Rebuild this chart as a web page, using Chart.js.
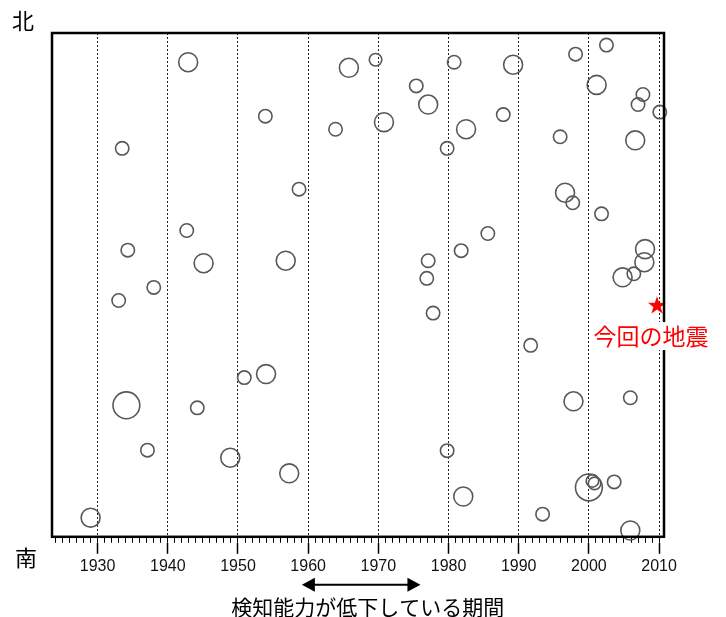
<!DOCTYPE html>
<html>
<head>
<meta charset="utf-8">
<script src="https://cdn.jsdelivr.net/npm/chart.js@4/dist/chart.umd.min.js"></script>
<style>
html,body{margin:0;padding:0;background:#fff;}
#wrap{width:726px;height:617px;}
</style>
</head>
<body>
<div id="wrap"><canvas id="c" width="726" height="617"></canvas></div>
<script>
// ---- data ----
const years = [1942.9,1933.5,1953.9,1958.7,1965.8,1969.6,1963.9,1970.8,1975.4,1977.1,
               1980.8,1982.5,1979.8,1989.2,1987.8,1998.1,2002.5,2001.1,2007.0,2007.7,
               2010.1,1995.9,2006.6,1996.6,1997.7,2001.8,1985.6,1981.8,1977.1,1976.9,
               1977.8,1942.7,1934.3,1945.1,1956.8,1938.0,1933.0,2008.0,2007.9,2006.4,
               2004.8,1991.7,1954.0,1950.9,1934.1,1944.2,1997.8,2005.9,1937.1,1948.9,
               1957.3,1979.8,2000.0,2000.5,2000.8,2003.6,1982.1,1993.4,2005.9,1929.0];
// relative north-south position (100 = north edge, 0 = south edge)
const positions = [94.2,77.1,83.5,69.0,93.1,94.7,80.9,82.3,89.5,85.8,
                   94.2,80.9,77.1,93.7,83.8,95.8,97.6,89.7,85.8,87.8,
                   84.3,79.4,78.7,68.3,66.3,64.1,60.2,56.8,54.8,51.3,
                   44.4,60.8,56.9,54.3,54.8,49.5,46.9,57.1,54.5,52.2,
                   51.5,38.0,32.3,31.6,26.1,25.6,26.9,27.6,17.2,15.7,
                   12.6,17.1,9.8,11.1,10.6,10.9,8.0,4.5,1.25,3.8];
const magnitudes = [6.5,6.0,6.0,6.0,6.5,5.9,6.0,6.5,6.0,6.5,
                    6.0,6.5,6.0,6.5,6.0,6.0,6.0,6.5,6.0,6.0,
                    6.0,6.0,6.5,6.5,6.0,6.0,6.0,6.0,6.0,6.0,
                    6.0,6.0,6.0,6.5,6.5,6.0,6.0,6.5,6.5,6.0,
                    6.5,6.0,6.5,6.0,7.0,6.0,6.5,6.0,6.0,6.5,
                    6.5,6.0,7.0,5.9,5.9,6.0,6.5,6.0,6.5,6.5];
const quakeYear = [2009.7];
const quakePos = [46.0];
const quakeLabel = '今回の地震';
const northLabel = '北';
const southLabel = '南';
const periodFrom = 1959.1;
const periodTo = 1976.0;
const periodLabel = '検知能力が低下している期間';
const decadeTicks = [1930, 1940, 1950, 1960, 1970, 1980, 1990, 2000, 2010];
const firstYearTick = 1924, lastYearTick = 2010;
const xMin = 1923.5, xMax = 2010.7;

function magToRadius(m){ return 6.7 * Math.pow(2, m - 6); }

const bubbles = years.map((y, i) => ({x: y, y: positions[i], r: magToRadius(magnitudes[i])}));
const star = quakeYear.map((y, i) => ({x: y, y: quakePos[i]}));

// star marker
const starImg = document.createElement('canvas');
starImg.width = 20; starImg.height = 20;
(function(){
  const g = starImg.getContext('2d');
  g.fillStyle = '#ff0000';
  g.beginPath();
  for (let k = 0; k < 10; k++) {
    const rr = k % 2 === 0 ? 9.5 : 3.8;
    const a = -Math.PI/2 + k * Math.PI/5;
    const px = 10 + rr*Math.cos(a), py = 10.8 + rr*Math.sin(a);
    if (k === 0) g.moveTo(px, py); else g.lineTo(px, py);
  }
  g.closePath(); g.fill();
})();

const annot = {
  id: 'annot',
  afterDraw(chart) {
    const {ctx, chartArea: a, scales} = chart;
    const xs = scales.x, ys = scales.y;
    ctx.save();
    // frame
    ctx.lineWidth = 2.5; ctx.strokeStyle = '#000';
    ctx.strokeRect(a.left, a.top, a.right - a.left, a.bottom - a.top);
    // N / S
    ctx.fillStyle = '#000';
    ctx.font = '22px "Noto Sans CJK JP"';
    ctx.textAlign = 'center'; ctx.textBaseline = 'middle';
    ctx.fillText(northLabel, 23, a.top - 12);
    ctx.fillText(southLabel, 26, a.bottom + 21);
    // arrow
    const x1 = xs.getPixelForValue(periodFrom), x2 = xs.getPixelForValue(periodTo);
    const ay = a.bottom + 48;
    const hl = 13, hh = 7;
    ctx.lineWidth = 2;
    ctx.beginPath(); ctx.moveTo(x1 + hl - 2, ay); ctx.lineTo(x2 - hl + 2, ay); ctx.stroke();
    ctx.beginPath(); ctx.moveTo(x1, ay); ctx.lineTo(x1 + hl, ay - hh); ctx.lineTo(x1 + hl, ay + hh); ctx.closePath(); ctx.fill();
    ctx.beginPath(); ctx.moveTo(x2, ay); ctx.lineTo(x2 - hl, ay - hh); ctx.lineTo(x2 - hl, ay + hh); ctx.closePath(); ctx.fill();
    ctx.font = '21px "Noto Sans CJK JP"';
    ctx.fillText(periodLabel, xs.getPixelForValue(1968.5), a.bottom + 70);
    // quake label
    const sx = xs.getPixelForValue(quakeYear[0]), sy = ys.getPixelForValue(quakePos[0]);
    ctx.font = '23px "Noto Sans CJK JP"';
    const w = ctx.measureText(quakeLabel).width;
    const lx = sx - 6, ly = sy + 31;
    ctx.fillStyle = '#fff';
    ctx.fillRect(lx - w/2 - 2, ly - 14, w + 4, 28);
    ctx.fillStyle = '#ff0000';
    ctx.fillText(quakeLabel, lx, ly);
    ctx.restore();
  }
};

new Chart(document.getElementById('c'), {
  type: 'bubble',
  data: {
    datasets: [
      {
        type: 'bubble',
        data: bubbles,
        xAxisID: 'x', yAxisID: 'y',
        backgroundColor: 'rgba(0,0,0,0)',
        borderColor: '#585858',
        borderWidth: 1.6,
        clip: false
      },
      {
        type: 'scatter',
        data: star,
        xAxisID: 'x', yAxisID: 'y',
        pointStyle: starImg,
        pointRadius: 10,
        clip: false
      }
    ]
  },
  options: {
    responsive: false,
    animation: false,
    events: [],
    layout: {padding: {left: 52, right: 62, top: 33, bottom: 38}},
    plugins: {legend: {display: false}, tooltip: {enabled: false}},
    scales: {
      y: {display: false, min: 0, max: 100},
      xm: {
        type: 'linear', position: 'bottom', weight: 0,
        min: xMin, max: xMax, bounds: 'data',
        afterBuildTicks: s => {
          const t = [];
          for (let v = firstYearTick; v <= lastYearTick; v++) t.push({value: v});
          s.ticks = t;
        },
        ticks: {display: false, autoSkip: false},
        grid: {drawOnChartArea: false, drawTicks: true, tickLength: 6, tickWidth: 1, tickColor: '#000', color: '#000'},
        border: {display: false}
      },
      x: {
        type: 'linear', position: 'bottom', weight: 1,
        min: xMin, max: xMax, bounds: 'data',
        afterBuildTicks: s => { s.ticks = decadeTicks.map(v => ({value: v})); },
        ticks: {autoSkip: false, maxRotation: 0,
                color: '#111', padding: 3, font: {family: '"Liberation Sans", Arial, sans-serif', size: 16},
                callback: v => String(v)},
        grid: {drawOnChartArea: true, drawTicks: true, tickLength: 11, tickWidth: 1.5, tickColor: '#000',
               color: '#222', lineWidth: 1},
        border: {display: false, dash: [2, 2]}
      }
    }
  },
  plugins: [annot]
});
</script>
</body>
</html>
